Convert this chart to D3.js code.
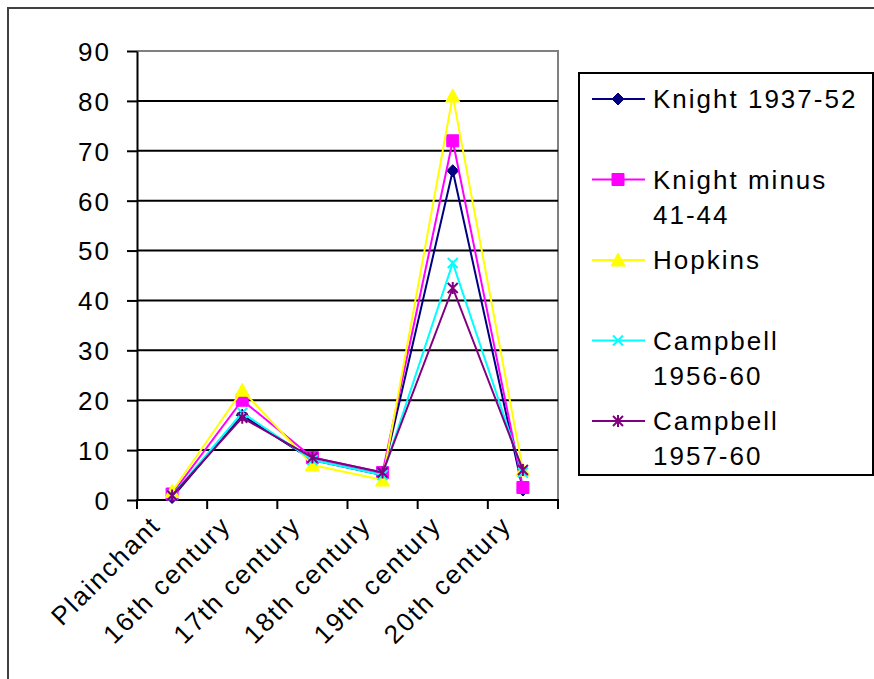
<!DOCTYPE html>
<html>
<head>
<meta charset="utf-8">
<script src="https://cdn.jsdelivr.net/npm/d3@7"></script>
<style>
  html, body { margin: 0; padding: 0; background: #fff; }
  svg { display: block; }
  text { font-family: "Liberation Sans", Arial, sans-serif; font-size: 26px; letter-spacing: 2px; fill: #000; }
</style>
</head>
<body>
<svg id="chart" width="874" height="679"></svg>
<script>
// Categories along the x axis
const categories = ["Plainchant", "16th century", "17th century", "18th century", "19th century", "20th century"];

// Series values (percent of repertoire per period)
const knight1937 = [0.5, 17, 8, 5, 66, 2];
const knightMinus = [1.2, 20, 8.5, 5.5, 72, 2.5];
const hopkins = [1.7, 22, 7, 4, 81, 6];
const campbell1956 = [0.9, 17.5, 8, 5, 47.5, 5.5];
const campbell1957 = [0.9, 16.5, 8.5, 5.5, 42.5, 6];

// Legend labels (wrapped as shown in the legend box)
const legendLabels = [["Knight 1937-52"], ["Knight minus", "41-44"], ["Hopkins"], ["Campbell", "1956-60"], ["Campbell", "1957-60"]];
const seriesColors = ["#000080", "#FF00FF", "#FFFF00", "#00FFFF", "#800080"];
const seriesMarkers = ["diamond", "square", "triangle", "times", "asterisk"];

// Value axis ticks
const yTicks = [0, 10, 20, 30, 40, 50, 60, 70, 80, 90];

const series = [knight1937, knightMinus, hopkins, campbell1956, campbell1957].map((values, i) => ({
  values, color: seriesColors[i], marker: seriesMarkers[i], label: legendLabels[i]
}));

const svg = d3.select("#chart");

// Outer chart frame
svg.append("rect").attr("x", 8).attr("y", 8).attr("width", 900).attr("height", 700)
  .attr("fill", "#fff").attr("stroke", "#404040").attr("stroke-width", 2);

const plot = { left: 137, right: 558, top: 51, bottom: 500 };

const x = d3.scaleBand().domain(categories).range([plot.left, plot.right]);
const y = d3.scaleLinear().domain([0, 90]).range([plot.bottom, plot.top]);
const cx = c => x(c) + x.bandwidth() / 2;

// Plot area border (top and right)
svg.append("path")
  .attr("d", `M${plot.left},${plot.top}H${plot.right}V${plot.bottom}`)
  .attr("fill", "none").attr("stroke", "#808080").attr("stroke-width", 2);

// Horizontal gridlines
svg.append("g").selectAll("line").data(yTicks.filter(t => t > 0 && t < 90)).join("line")
  .attr("x1", plot.left).attr("x2", plot.right)
  .attr("y1", d => y(d)).attr("y2", d => y(d))
  .attr("stroke", "#000").attr("stroke-width", 2);

// Y axis
const yAxis = svg.append("g").attr("transform", `translate(${plot.left},0)`)
  .call(d3.axisLeft(y).tickValues(yTicks).tickSize(10).tickPadding(16).tickSizeOuter(0));
yAxis.select(".domain").attr("stroke", "#000").attr("stroke-width", 2);
yAxis.selectAll(".tick line").attr("stroke", "#000").attr("stroke-width", 2);
yAxis.selectAll(".tick text").attr("font-size", null).attr("font-family", null)
  .style("font-size", "26px").attr("fill", "#000").attr("dy", "0.36em");

// X axis line and tick marks at category boundaries
const boundaries = categories.map(c => x(c)).concat([x.range()[1]]);
svg.append("line").attr("x1", plot.left - 1).attr("x2", plot.right + 1)
  .attr("y1", plot.bottom).attr("y2", plot.bottom).attr("stroke", "#000").attr("stroke-width", 2);
svg.append("g").selectAll("line").data(boundaries).join("line")
  .attr("x1", d => d).attr("x2", d => d)
  .attr("y1", plot.bottom).attr("y2", plot.bottom + 9)
  .attr("stroke", "#000").attr("stroke-width", 2);

// Rotated category labels
svg.append("g").selectAll("text").data(categories).join("text")
  .attr("transform", d => `translate(${cx(d) - 10},${plot.bottom + 27}) rotate(-45)`)
  .attr("text-anchor", "end")
  .text(d => d);

// Marker shapes
function markerPath(type) {
  switch (type) {
    case "diamond": return "M0,-6L6,0L0,6L-6,0Z";
    case "square": return "M-6,-6H6V6H-6Z";
    case "triangle": return "M0,-7L7,6H-7Z";
    case "times": return "M-5,-5L5,5M5,-5L-5,5";
    case "asterisk": return "M-5,-5L5,5M5,-5L-5,5M0,-6V6";
  }
}
function drawMarker(g, s) {
  const filled = s.marker === "diamond" || s.marker === "square" || s.marker === "triangle";
  g.attr("d", markerPath(s.marker))
    .attr("fill", filled ? s.color : "none")
    .attr("stroke", s.color)
    .attr("stroke-width", filled ? 1 : 2);
}

const line = d3.line().x((d, i) => cx(categories[i])).y(d => y(d));

series.forEach(s => {
  const g = svg.append("g");
  g.append("path").datum(s.values).attr("d", line)
    .attr("fill", "none").attr("stroke", s.color).attr("stroke-width", 2);
  g.selectAll("path.m").data(s.values).join("path").attr("class", "m")
    .attr("transform", (d, i) => `translate(${cx(categories[i])},${y(d)})`)
    .call(sel => drawMarker(sel, s));
});

// Legend
const legend = { left: 579, top: 73, right: 873, bottom: 475 };
svg.append("rect").attr("x", legend.left).attr("y", legend.top)
  .attr("width", legend.right - legend.left).attr("height", legend.bottom - legend.top)
  .attr("fill", "#fff").attr("stroke", "#000").attr("stroke-width", 2);

const entryY = d3.scaleLinear().domain([0, series.length - 1]).range([99, 421]);
series.forEach((s, i) => {
  const yy = entryY(i);
  const g = svg.append("g");
  g.append("line").attr("x1", 592).attr("x2", 645).attr("y1", yy).attr("y2", yy)
    .attr("stroke", s.color).attr("stroke-width", 2);
  g.append("path").attr("transform", `translate(618,${yy})`).call(sel => drawMarker(sel, s));
  const t = g.append("text").attr("x", 653).attr("y", yy);
  s.label.forEach((ln, k) => {
    t.append("tspan").attr("x", 653).attr("dy", k === 0 ? "0.36em" : "35px").text(ln);
  });
});
</script>
</body>
</html>
